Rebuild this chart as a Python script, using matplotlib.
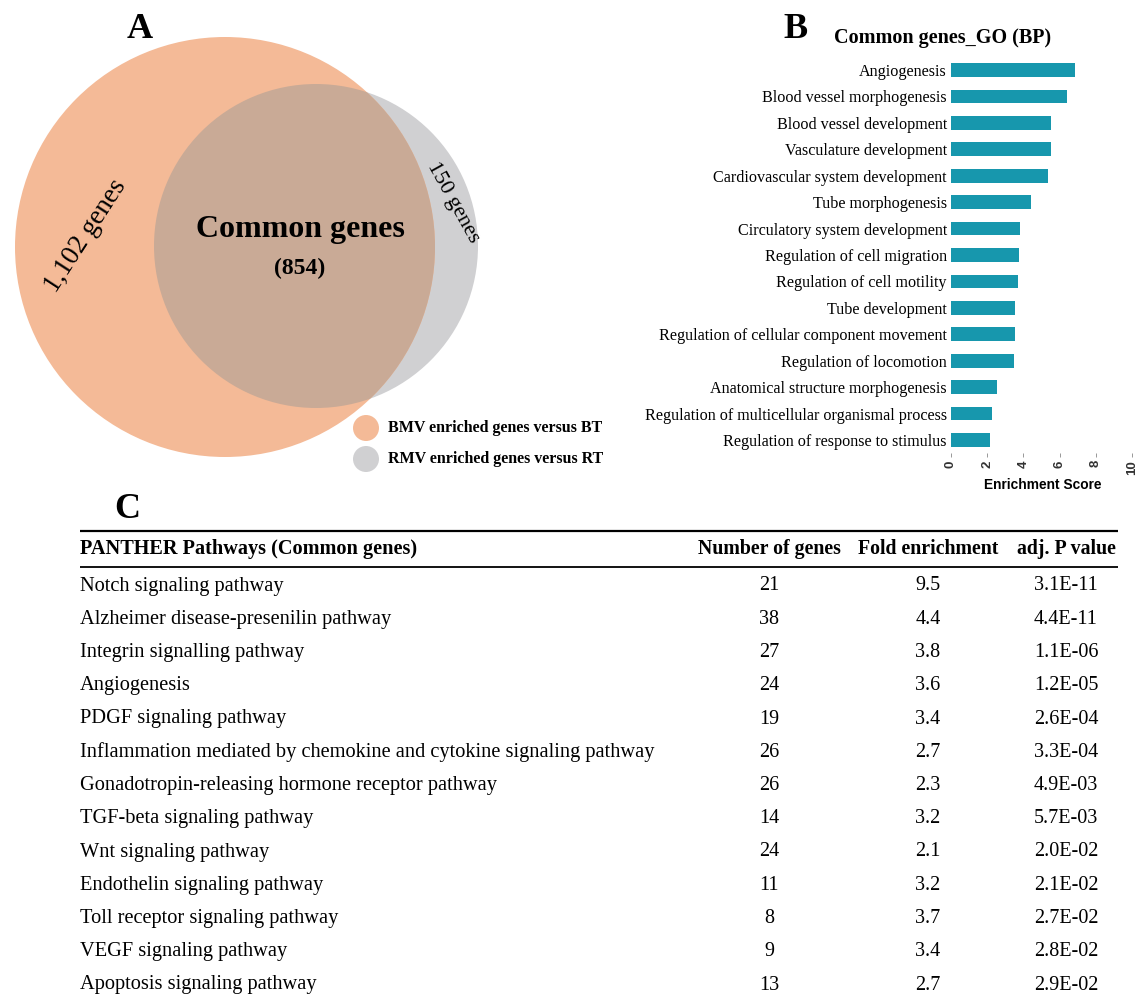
import matplotlib
matplotlib.use("Agg")
import matplotlib.pyplot as plt
from matplotlib.patches import Circle

W, H, DPI = 1139, 999, 100
SERIF = "Liberation Serif"
SANS = "Liberation Sans"

# ---- Panel A: Venn diagram texts ----
venn_common_title = "Common genes"
venn_common_count = "(854)"
venn_bmv_only = "1,102 genes"
venn_rmv_only = "150 genes"
legend_labels = ["BMV enriched genes versus BT", "RMV enriched genes versus RT"]

# ---- Panel B: GO biological process enrichment ----
go_terms = [
    "Angiogenesis",
    "Blood vessel morphogenesis",
    "Blood vessel development",
    "Vasculature development",
    "Cardiovascular system development",
    "Tube morphogenesis",
    "Circulatory system development",
    "Regulation of cell migration",
    "Regulation of cell motility",
    "Tube development",
    "Regulation of cellular component movement",
    "Regulation of locomotion",
    "Anatomical structure morphogenesis",
    "Regulation of multicellular organismal process",
    "Regulation of response to stimulus",
]
go_scores = [6.85, 6.4, 5.55, 5.5, 5.35, 4.4, 3.8, 3.75, 3.7, 3.55, 3.55, 3.5, 2.55, 2.25, 2.15]
score_ticks = [0, 2, 4, 6, 8, 10]

# ---- Panel C: PANTHER pathways table ----
table_headers = ["PANTHER Pathways (Common genes)", "Number of genes", "Fold enrichment", "adj. P value"]
pathways = [
    "Notch signaling pathway",
    "Alzheimer disease-presenilin pathway",
    "Integrin signalling pathway",
    "Angiogenesis",
    "PDGF signaling pathway",
    "Inflammation mediated by chemokine and cytokine signaling pathway",
    "Gonadotropin-releasing hormone receptor pathway",
    "TGF-beta signaling pathway",
    "Wnt signaling pathway",
    "Endothelin signaling pathway",
    "Toll receptor signaling pathway",
    "VEGF signaling pathway",
    "Apoptosis signaling pathway",
]
n_genes = [21, 38, 27, 24, 19, 26, 26, 14, 24, 11, 8, 9, 13]
fold_enrichment = [9.5, 4.4, 3.8, 3.6, 3.4, 2.7, 2.3, 3.2, 2.1, 3.2, 3.7, 3.4, 2.7]
adj_p = ["3.1E-11", "4.4E-11", "1.1E-06", "1.2E-05", "2.6E-04", "3.3E-04", "4.9E-03",
         "5.7E-03", "2.0E-02", "2.1E-02", "2.7E-02", "2.8E-02", "2.9E-02"]

ORANGE = "#f4ba97"
GREY = "#d0d0d2"
BROWN = "#c9aa96"
TEAL = "#1797ad"

fig = plt.figure(figsize=(W / DPI, H / DPI), dpi=DPI)
fig.patch.set_facecolor("white")

# Canvas axes in pixel units for the Venn diagram and the table
ax = fig.add_axes([0, 0, 1, 1])
ax.set_xlim(0, W)
ax.set_ylim(H, 0)
ax.axis("off")

# Venn circles: grey set, orange set, and their overlap in brown
grey_c = Circle((316, 246), 162, fc=GREY, ec="none", zorder=1)
orange_c = Circle((225, 247), 210, fc=ORANGE, ec="none", zorder=2)
overlap_c = Circle((316, 246), 162, fc=BROWN, ec="none", zorder=3)
ax.add_patch(grey_c)
ax.add_patch(orange_c)
ax.add_patch(overlap_c)
overlap_c.set_clip_path(orange_c)

ax.text(300, 229, venn_common_title, fontsize=23, weight="bold", family=SERIF,
        ha="center", va="center", zorder=5)
ax.text(300, 268, venn_common_count, fontsize=17, weight="bold", family=SERIF,
        ha="center", va="center", zorder=5)
ax.text(86, 236, venn_bmv_only, fontsize=19.5, family=SERIF, rotation=57,
        rotation_mode="anchor", ha="center", va="center", zorder=5)
ax.text(453, 203, venn_rmv_only, fontsize=16, family=SERIF, rotation=-61,
        rotation_mode="anchor", ha="center", va="center", zorder=5)

# Venn legend
for i, (lab, col) in enumerate(zip(legend_labels, [ORANGE, GREY])):
    y = 428 + 31 * i
    ax.add_patch(Circle((366, y), 13, fc=col, ec="none", zorder=4))
    ax.text(388, y, lab, fontsize=11.5, weight="bold", family=SERIF,
            ha="left", va="center", zorder=5)

# Panel letters
ax.text(140, 30, "A", fontsize=26, weight="bold", family=SERIF, ha="center", va="center")
ax.text(796, 30, "B", fontsize=26, weight="bold", family=SERIF, ha="center", va="center")
ax.text(127, 509, "C", fontsize=26, weight="bold", family=SERIF, ha="center", va="center")

# Panel B title and axis label
ax.text(943, 38, "Common genes_GO (BP)", fontsize=14.5, weight="bold", family=SERIF,
        ha="center", va="center")
ax.text(1043, 485, "Enrichment Score", fontsize=9.9, weight="bold", family=SANS,
        ha="center", va="center")

# Panel C table
x_left, x_right = 80, 1118
col_x = [80, 769, 928, 1066]
ax.plot([x_left, x_right], [531, 531], color="black", lw=1.6, solid_capstyle="butt")
ax.plot([x_left, x_right], [567, 567], color="black", lw=1.3, solid_capstyle="butt")
for j, hdr in enumerate(table_headers):
    ax.text(col_x[j], 549, hdr, fontsize=14.6 if j == 0 else 14.3, weight="bold",
            family=SERIF, ha="left" if j == 0 else "center", va="center")

row_y0, row_dy = 586, 33.25
for i in range(len(pathways)):
    y = row_y0 + row_dy * i
    ax.text(col_x[0], y, pathways[i], fontsize=14.7, family=SERIF, ha="left", va="center")
    ax.text(col_x[1], y, f"{n_genes[i]}", fontsize=14.5, family=SERIF, ha="center", va="center")
    ax.text(col_x[2], y, f"{fold_enrichment[i]:.1f}", fontsize=14.5, family=SERIF,
            ha="center", va="center")
    ax.text(col_x[3], y, adj_p[i], fontsize=14.5, family=SERIF, ha="center", va="center")

# Panel B: horizontal bar chart
bx0, bx1 = 951, 1132
by_top, by_bot = 56.8, 453.2
axb = fig.add_axes([bx0 / W, 1 - by_bot / H, (bx1 - bx0) / W, (by_bot - by_top) / H])
axb.barh(range(len(go_terms)), go_scores, height=0.52, color=TEAL, edgecolor="none")
axb.set_xlim(0, 10)
axb.set_ylim(len(go_terms) - 0.5, -0.5)
axb.set_yticks(range(len(go_terms)))
axb.set_yticklabels(go_terms, fontsize=11.6, family=SERIF)
axb.tick_params(axis="y", length=0, pad=3)
axb.set_xticks(score_ticks)
axb.set_xticklabels([str(t) for t in score_ticks], rotation=90, fontsize=9.5,
                    family=SANS, weight="bold", color="#333333")
axb.tick_params(axis="x", length=3, width=0.6, color="#888888", pad=2)
for s in axb.spines.values():
    s.set_visible(False)
axb.patch.set_alpha(0)

fig.savefig("out.png", dpi=DPI, facecolor="white")
